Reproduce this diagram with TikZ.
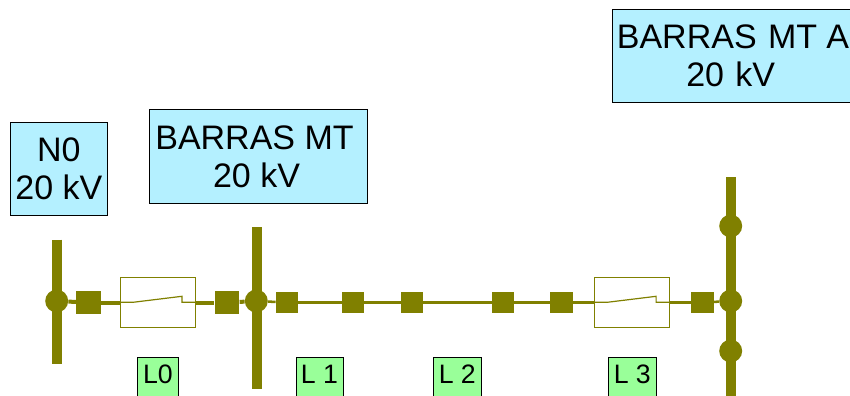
\documentclass[tikz,border=0pt]{standalone}
\usepackage{fontspec}
\setmainfont{Liberation Sans}
\definecolor{olivebar}{HTML}{808000}
\definecolor{busblue}{HTML}{B4F0FF}
\definecolor{linegreen}{HTML}{99FF99}
\tikzset{
  px/.style={x=0.75pt,y=-0.75pt},
  busbox/.style={draw=black,line width=0.75pt,fill=busblue,inner sep=0pt,align=center,font=\fontsize{25.5pt}{28.6pt}\selectfont},
  linebox/.style={draw=black,line width=0.75pt,fill=linegreen},
  linelabel/.style={inner sep=0pt,font=\fontsize{20pt}{24pt}\selectfont},
  barline/.style={draw=olivebar,line width=7.4pt},
  joint/.style={circle,fill=olivebar,inner sep=0pt,minimum size=17.2pt},
  bigsq/.style={rectangle,fill=olivebar,inner sep=0pt,minimum width=18.5pt,minimum height=17.5pt},
  smallsq/.style={rectangle,fill=olivebar,inner sep=0pt,minimum width=16.6pt,minimum height=16pt},
  thick feeder/.style={draw=olivebar,line width=3pt},
  thin feeder/.style={draw=olivebar,line width=1.9pt},
  switchbox/.style={rectangle,draw=olivebar,line width=0.8pt,fill=white,inner sep=0pt,minimum width=56pt,minimum height=37.6pt},
  switchblade/.style={draw=olivebar,line width=0.9pt}
}
\begin{document}
\begin{tikzpicture}[px]
\useasboundingbox (0,0) rectangle (850,396);
\clip (0,0) rectangle (850,396);
\coordinate (n0t) at (57.3,239.5); \coordinate (n0b) at (57.3,364);
\coordinate (bmt) at (257,227); \coordinate (bmb) at (257,389);
\coordinate (bat) at (731,177); \coordinate (bab) at (731,400);
\draw[barline] (n0t) -- (n0b);
\draw[barline] (bmt) -- (bmb);
\draw[barline] (bat) -- (bab);
\node[joint] (j0) at (56.7,301) {};
\node[joint] (j1) at (256.3,301) {};
\node[joint] (j2) at (730.7,301) {};
\node[joint] (j3) at (730.7,226) {};
\node[joint] (j4) at (730.7,351) {};
\node[bigsq] (s0) at (88.5,302.6) {};
\node[bigsq] (s1) at (227,302.6) {};
\node[smallsq] (s2) at (287,302.5) {};
\node[smallsq] (s3) at (353,302.5) {};
\node[smallsq] (s4) at (412,302.5) {};
\node[smallsq] (s5) at (503,302.5) {};
\node[smallsq] (s6) at (561.5,302.5) {};
\node[smallsq] (s7) at (702.5,302.5) {};
\node[switchbox] (sw0) at (157.8,302.7) {};
\node[switchbox] (sw1) at (632,302.5) {};
\draw[thick feeder] (j0) -- (s0);
\draw[thick feeder] (s0) -- (sw0.west |- s0);
\draw[thick feeder] (sw0.east |- s1) -- (s1);
\draw[thick feeder] (s1) -- (j1);
\draw[thin feeder] (j1) -- (s2);
\draw[thin feeder] (s2) -- (s3);
\draw[thin feeder] (s3) -- (s4);
\draw[thin feeder] (s4) -- (s5);
\draw[thin feeder] (s5) -- (s6);
\draw[thin feeder] (s6) -- (sw1.west |- s6);
\draw[thin feeder] (sw1.east |- s7) -- (s7);
\draw[thin feeder] (s7) -- (j2);
\draw[switchblade] (sw0.west |- 0,302.3) -- ++(13,0) -- ++(49,-6) -- ++(0,6) -- (sw0.east |- 0,302.3);
\draw[switchblade] (sw1.west |- 0,302.3) -- ++(13,0) -- ++(49,-6) -- ++(0,6) -- (sw1.east |- 0,302.3);
\node[busbox,minimum width=72.6pt,minimum height=70.2pt] (bn0) at (58.9,168.8) {N0\\20 kV};
\node[busbox,minimum width=164pt,minimum height=70.2pt] (bbmt) at (258.5,156.5) {BARRAS MT\kern6pt\\20 kV\kern3pt};
\node[busbox,minimum width=180pt,minimum height=70pt,text width=180pt] (bba) at (732,56) {BARRAS MT\kern-1.5pt{} A\kern-1.5pt\\20 kV\kern2pt};
\draw[linebox] (137.5,357.5) rectangle (178,400);
\draw[linebox] (296,357.5) rectangle (343.5,400);
\draw[linebox] (433.5,357.5) rectangle (481,400);
\draw[linebox] (608.5,357.5) rectangle (656,400);
\node[linelabel] (l0) at (158,374.5) {L0};
\node[linelabel] (l1) at (319.5,374.5) {L 1};
\node[linelabel] (l2) at (457.3,374.5) {L 2};
\node[linelabel] (l3) at (632.3,374.5) {L 3};
\end{tikzpicture}
\end{document}
